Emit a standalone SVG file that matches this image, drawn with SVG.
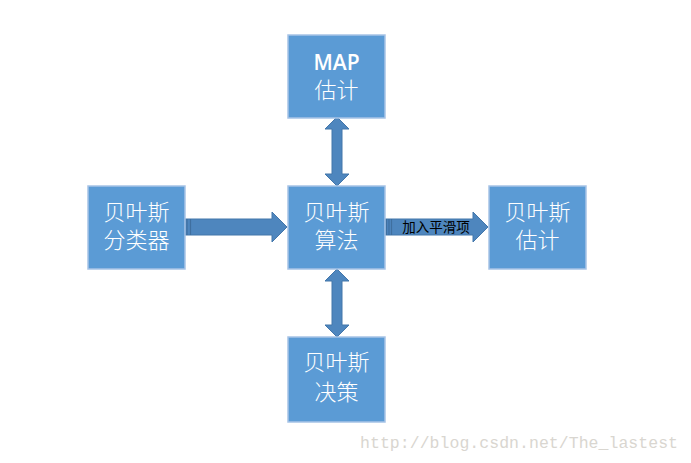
<svg xmlns="http://www.w3.org/2000/svg" width="691" height="463" viewBox="0 0 691 463">
<style>
.box{fill:#5B9BD5;stroke:#A7C3E6;stroke-width:1.5}
.t{fill:#ffffff;font-family:"Noto Sans CJK SC","Liberation Sans",sans-serif;font-size:22px;font-weight:300;text-anchor:middle}
.lat{font-family:"Open Sans","Liberation Sans",sans-serif;font-weight:600;font-size:21px}
.arr{fill:#4E86BE;stroke:#4376AA;stroke-width:1}
.stripe{stroke:#3F6F9F;stroke-width:1.2}
</style>
<rect width="691" height="463" fill="#ffffff"/>
<g id="connectors">
<path class="arr" d="M337,117 L349,129 L342,129 L342,174 L349,174 L337,186 L325,174 L332,174 L332,129 L325,129 Z"/>
<path class="arr" d="M337,269 L349,281 L342,281 L342,325 L349,325 L337,337 L325,325 L332,325 L332,281 L325,281 Z"/>
<path class="arr" d="M185,219 L272,219 L272,212 L287,227 L272,242 L272,235 L185,235 Z"/>
<line class="stripe" x1="187" y1="219" x2="187" y2="235"/>
<line class="stripe" x1="190.5" y1="219" x2="190.5" y2="235"/>
<path class="arr" d="M385,219 L473,219 L473,212 L488,227 L473,242 L473,235 L385,235 Z"/>
<line class="stripe" x1="386.5" y1="219" x2="386.5" y2="235"/>
<line class="stripe" x1="389" y1="219" x2="389" y2="235"/>
<line class="stripe" x1="391.5" y1="219" x2="391.5" y2="235"/>
<text x="436" y="232" font-family="Noto Sans CJK SC,Liberation Sans,sans-serif" font-size="13.5" fill="#000000" text-anchor="middle">加入平滑项</text>
</g>
<g id="map">
<rect class="box" x="288" y="35" width="97" height="83"/>
<text class="t lat" x="336.5" y="70">MAP</text>
<text class="t" x="336.5" y="98">估计</text>
</g>
<g id="classifier">
<rect class="box" x="88" y="186" width="97" height="83"/>
<text class="t" x="136.5" y="220">贝叶斯</text>
<text class="t" x="136.5" y="248">分类器</text>
</g>
<g id="algorithm">
<rect class="box" x="288" y="186" width="97" height="83"/>
<text class="t" x="336.5" y="220">贝叶斯</text>
<text class="t" x="336.5" y="248">算法</text>
</g>
<g id="estimate">
<rect class="box" x="489" y="186" width="97" height="83"/>
<text class="t" x="537.5" y="220">贝叶斯</text>
<text class="t" x="537.5" y="248">估计</text>
</g>
<g id="decision">
<rect class="box" x="288" y="337" width="97" height="85"/>
<text class="t" x="336.5" y="370">贝叶斯</text>
<text class="t" x="336.5" y="400">决策</text>
</g>
<text x="360" y="448" font-family="Liberation Mono,monospace" font-size="16.5" fill="#D9D6D0" textLength="318">http://blog.csdn.net/The_lastest</text>
</svg>
